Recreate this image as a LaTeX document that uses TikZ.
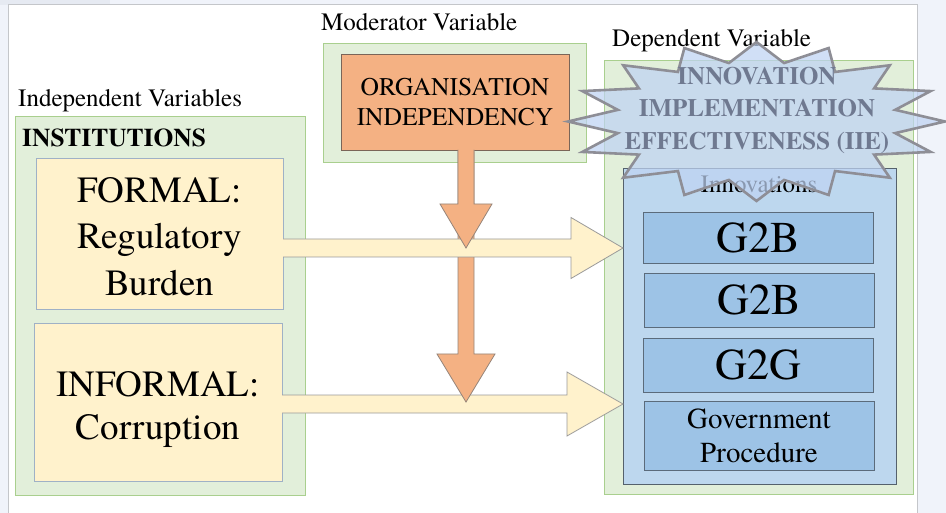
\documentclass[tikz,border=0pt]{standalone}
\usepackage{fontspec}
\IfFontExistsTF{TeX Gyre Termes}{\setmainfont{TeX Gyre Termes}}{}
\usetikzlibrary{calc}
\definecolor{bgc}{HTML}{F0F3FA}
\definecolor{topc}{HTML}{E6EAF2}
\definecolor{panelb}{HTML}{C4C6CA}
\definecolor{gfill}{HTML}{E2EFDA}
\definecolor{gdraw}{HTML}{A9CF8E}
\definecolor{yfill}{HTML}{FFF2CC}
\definecolor{ydraw}{HTML}{9FB1C6}
\definecolor{ofill}{HTML}{F4B183}
\definecolor{odraw}{HTML}{7A6558}
\definecolor{ifill}{HTML}{BDD7EE}
\definecolor{idraw}{HTML}{55616C}
\definecolor{bfill}{HTML}{9DC3E6}
\definecolor{bdraw}{HTML}{5B6B7B}
\definecolor{arrb}{HTML}{9A9A9A}
\definecolor{starfill}{HTML}{BFD3F3}
\definecolor{stardraw}{HTML}{8E8E96}
\definecolor{startext}{HTML}{6F7990}
\begin{document}
\begin{tikzpicture}[x=1pt,y=-1pt,
  greenbox/.style={draw=gdraw, fill=gfill, line width=0.9pt, inner sep=0pt, outer sep=0pt},
  ybox/.style={draw=ydraw, fill=yfill, line width=0.9pt, inner sep=0pt, outer sep=0pt},
  txt/.style={inner sep=0pt, align=center},
  obox/.style={draw=odraw, fill=ofill, line width=0.9pt, inner sep=0pt, outer sep=0pt, align=center},
  ibox/.style={draw=idraw, fill=ifill, line width=0.9pt, inner sep=0pt, outer sep=0pt},
  bbox/.style={draw=bdraw, fill=bfill, line width=0.9pt, inner sep=0pt, outer sep=0pt, align=center},
  lbl/.style={inner sep=0pt, anchor=base west, font=\fontsize{25}{30}\selectfont},
  yarrow/.style={draw=arrb, fill=yfill, line width=0.8pt, line join=miter},
  oarrow/.style={draw=odraw!80, fill=ofill, line width=0.8pt, line join=miter},
  starsty/.style={draw=stardraw, line width=2.6pt, fill=starfill, fill opacity=0.72, line join=miter}
]
\useasboundingbox (0,0) rectangle (946,513);
\fill[bgc] (0,0) rectangle (946,513);
\fill[topc] (0,0) rectangle (110,5);
\draw[panelb, fill=white, line width=1pt] (8,514) -- (8,5) -- (917,5) -- (917,514);

% Independent
\node[lbl] (indlbl) at (18,107) {Independent Variables};
\node[greenbox, minimum width=290pt, minimum height=379pt] (indbox) at (160,305.5) {};
\node[lbl, font=\bfseries\fontsize{25.5}{30}\selectfont] (inst) at (22,147) {INSTITUTIONS};
\node[ybox, minimum width=247pt, minimum height=151pt] (formal) at (159.5,233.5) {};
\node[txt, font=\fontsize{37}{46.5}\selectfont] (formaltxt) at ($(formal.center)+(0,3)$) {FORMAL:\\Regulatory\\Burden};
\node[ybox, minimum width=248pt, minimum height=158pt] (informal) at (158,402) {};
\node[txt, font=\fontsize{37}{43}\selectfont] (informaltxt) at ($(informal.center)+(0,8)$) {INFORMAL:\\Corruption};

% Moderator
\node[lbl] (modlbl) at (321,31) {Moderator Variable};
\node[greenbox, minimum width=263pt, minimum height=119pt] (modbox) at (454.5,102.5) {};
\node[obox, minimum width=228pt, minimum height=96pt, font=\fontsize{25.5}{30}\selectfont] (org) at (455,102) {ORGANISATION\\INDEPENDENCY};

% Dependent
\node[lbl] (deplbl) at (612,47) {Dependent Variable};
\node[greenbox, minimum width=309pt, minimum height=434pt] (depbox) at (758.5,277) {};
\node[ibox, minimum width=273pt, minimum height=316pt] (innov) at (759.5,326) {};
\node[inner sep=0pt, anchor=base, font=\fontsize{25}{30}\selectfont] (innovlbl) at (759,193) {Innovations};
\node[bbox, minimum width=230pt, minimum height=51pt, font=\fontsize{44}{50}\selectfont] (g1) at (758,237.5) {G2B};
\node[bbox, minimum width=230pt, minimum height=54pt, font=\fontsize{44}{50}\selectfont] (g2) at (759,300) {G2B};
\node[bbox, minimum width=230pt, minimum height=54pt, font=\fontsize{44}{50}\selectfont] (g3) at (758,365) {G2G};
\node[bbox, minimum width=230pt, minimum height=69pt, font=\fontsize{29}{34}\selectfont] (gp) at (759,435.5) {Government\\Procedure};

% arrow anchor points
\coordinate (t2) at (informal.east |- 0,404);
\coordinate (h2) at (innov.west |- 0,404);
\coordinate (t1) at (formal.east |- 0,248);
\coordinate (h1) at (innov.west |- 0,248);
\coordinate (os) at ($(org.south)+(11,0)$);

% yellow arrow 2 (lower)
\draw[yarrow] ($(t2)+(0,-9)$) -- ($(h2)+(-56,-9)$) -- ($(h2)+(-56,-32)$) -- (h2)
  -- ($(h2)+(-56,32)$) -- ($(h2)+(-56,9)$) -- ($(t2)+(0,9)$);
% orange long arrow
\draw[oarrow] ($(os)+(-8,0)$) -- ($(os)+(-8,204)$) -- ($(os)+(-29,204)$) -- ($(os)+(0,252)$)
  -- ($(os)+(29,204)$) -- ($(os)+(8,204)$) -- ($(os)+(8,0)$);
% yellow arrow 1 (upper)
\draw[yarrow] ($(t1)+(0,-9)$) -- ($(h1)+(-52,-9)$) -- ($(h1)+(-52,-30.5)$) -- (h1)
  -- ($(h1)+(-52,30.5)$) -- ($(h1)+(-52,9)$) -- ($(t1)+(0,9)$);
% orange short arrow
\draw[oarrow] ($(os)+(-8,0)$) -- ($(os)+(-8,54)$) -- ($(os)+(-26,54)$) -- ($(os)+(0,98)$)
  -- ($(os)+(26,54)$) -- ($(os)+(8,54)$) -- ($(os)+(8,0)$);

% starburst
\draw[starsty, shift={(756.5,121.5)}] (0:188.5 and 79.5)
  \foreach \i in {0,...,15} { -- ({\i*22.5+11.25}:141.4 and 59.6) -- ({\i*22.5+22.5}:188.5 and 79.5) } -- cycle;
\node[inner sep=0pt, align=center, text=startext, font=\bfseries\fontsize{25}{32.5}\selectfont] (iie) at (757,110) {INNOVATION\\IMPLEMENTATION\\EFFECTIVENESS (IIE)};
\end{tikzpicture}
\end{document}
